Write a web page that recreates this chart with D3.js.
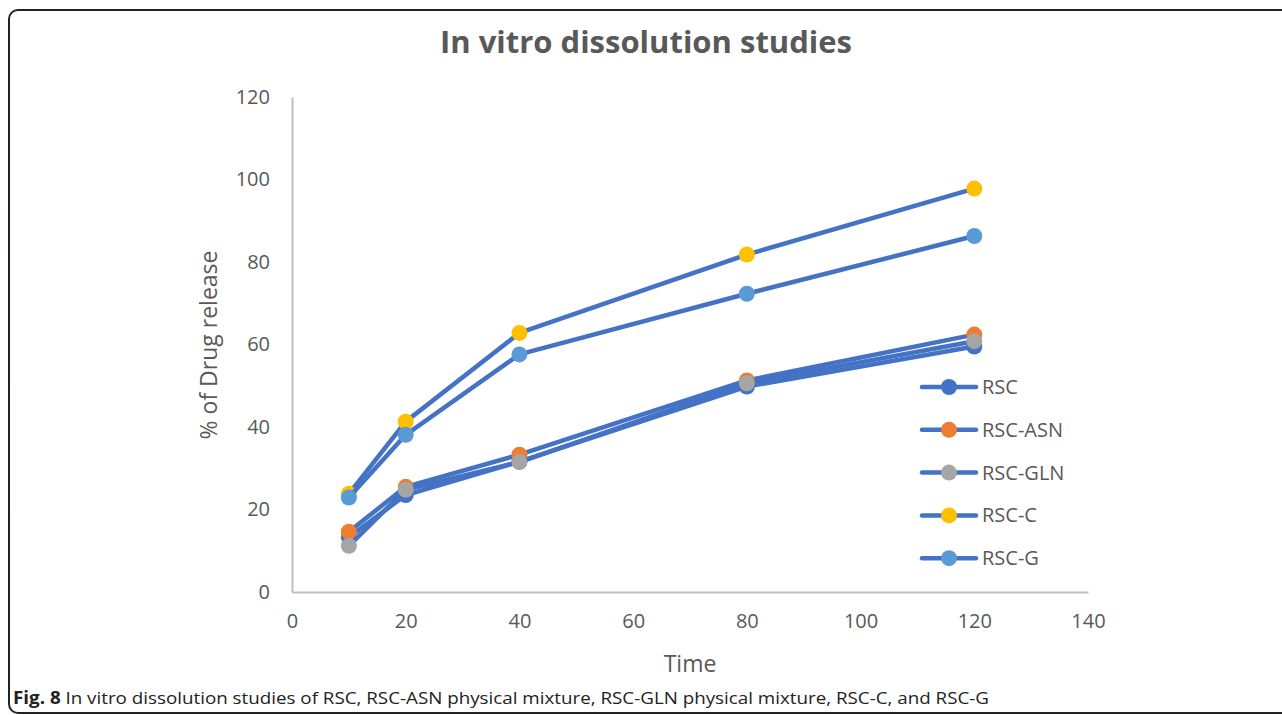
<!DOCTYPE html>
<html>
<head>
<meta charset="utf-8">
<script src="https://cdn.jsdelivr.net/npm/d3@7"></script>
<style>
  body { margin: 0; background: #fff; }
  text { font-family: "Open Sans", sans-serif; }
</style>
</head>
<body>
<script>
let W = 1282
let H = 715

// data
let times = [10, 20, 40, 80, 120]
let seriesNames = ["RSC", "RSC-ASN", "RSC-GLN", "RSC-C", "RSC-G"]
let rsc = [13.3, 23.5, 31.6, 49.8, 59.5]
let rscAsn = [14.6, 25.5, 33.3, 51.3, 62.4]
let rscGln = [11.2, 24.8, 31.5, 50.6, 60.8]
let rscC = [23.8, 41.3, 62.8, 81.8, 97.8]
let rscG = [22.9, 38.1, 57.6, 72.3, 86.3]
let xTicks = [0, 20, 40, 60, 80, 100, 120, 140]
let yTicks = [0, 20, 40, 60, 80, 100, 120]
let markerColours = ["#4472C4", "#ED7D31", "#A5A5A5", "#FFC000", "#5B9BD5"]

let allSeries = [rsc, rscAsn, rscGln, rscC, rscG].map((v, i) => ({
    name: seriesNames[i],
    colour: markerColours[i],
    values: v.map((y, j) => ({ x: times[j], y: y }))
}))

let svg = d3.select("body")
    .append("svg")
    .attr("width", W)
    .attr("height", H)

// frame
svg.append("rect")
    .attr("x", 9).attr("y", 10)
    .attr("width", 1290).attr("height", 703)
    .attr("rx", 9)
    .attr("fill", "none")
    .attr("stroke", "#222")
    .attr("stroke-width", 2)

let x = d3.scaleLinear().domain([0, 140]).range([292, 1088])
let y = d3.scaleLinear().domain([0, 120]).range([592, 97])

let xAxis = svg.append("g")
    .attr("transform", "translate(0," + y(0) + ")")
    .call(d3.axisBottom(x).tickValues(xTicks).tickSize(0).tickPadding(22))
let yAxis = svg.append("g")
    .attr("transform", "translate(" + x(0) + ",0)")
    .call(d3.axisLeft(y).tickValues(yTicks).tickSize(0).tickPadding(22))

for (let ax of [xAxis, yAxis]) {
    ax.select(".domain").attr("stroke", "#BFBFBF").attr("stroke-width", 2)
    ax.selectAll("text")
        .attr("fill", "#595959")
        .style("font-size", "20px")
        .style("font-family", "'Open Sans', sans-serif")
}

svg.append("text")
    .attr("x", 646).attr("y", 53)
    .attr("text-anchor", "middle")
    .attr("fill", "#595959")
    .style("font-size", "31px")
    .style("font-weight", "bold")
    .text("In vitro dissolution studies")

svg.append("text")
    .attr("x", 690).attr("y", 672)
    .attr("text-anchor", "middle")
    .attr("fill", "#595959")
    .style("font-size", "23px")
    .text("Time")

svg.append("text")
    .attr("transform", "translate(217,345) rotate(-90)")
    .attr("text-anchor", "middle")
    .attr("fill", "#595959")
    .style("font-size", "23px")
    .text("% of Drug release")

let line = d3.line().x(d => x(d.x)).y(d => y(d.y))

let groups = svg.selectAll(".series")
    .data(allSeries)
    .enter()
    .append("g")
    .attr("class", "series")

groups.append("path")
    .attr("d", d => line(d.values))
    .attr("fill", "none")
    .attr("stroke", "#4472C4")
    .attr("stroke-width", 4.5)
    .attr("stroke-linejoin", "round")

groups.selectAll("circle")
    .data(d => d.values.map(v => ({ x: v.x, y: v.y, colour: d.colour })))
    .enter()
    .append("circle")
    .attr("cx", d => x(d.x))
    .attr("cy", d => y(d.y))
    .attr("r", 8)
    .attr("fill", d => d.colour)

// legend
let legend = svg.selectAll(".legend")
    .data(allSeries)
    .enter()
    .append("g")
    .attr("class", "legend")
    .attr("transform", (d, i) => "translate(921," + (387 + i * 42.8) + ")")

legend.append("line")
    .attr("x1", 1).attr("x2", 55)
    .attr("stroke", "#4472C4")
    .attr("stroke-width", 4.5)
    .attr("stroke-linecap", "round")
legend.append("circle")
    .attr("cx", 28).attr("r", 8)
    .attr("fill", d => d.colour)
legend.append("text")
    .attr("x", 61).attr("y", 7)
    .attr("fill", "#595959")
    .style("font-size", "20px")
    .text(d => d.name)

// caption
let cap = svg.append("text")
    .attr("x", 13).attr("y", 704)
    .attr("fill", "#222")
    .style("font-size", "17px")
    .attr("textLength", 976)
    .attr("lengthAdjust", "spacingAndGlyphs")
cap.append("tspan").style("font-weight", "bold").text("Fig. 8")
cap.append("tspan").text(" In vitro dissolution studies of RSC, RSC-ASN physical mixture, RSC-GLN physical mixture, RSC-C, and RSC-G")
</script>
</body>
</html>
